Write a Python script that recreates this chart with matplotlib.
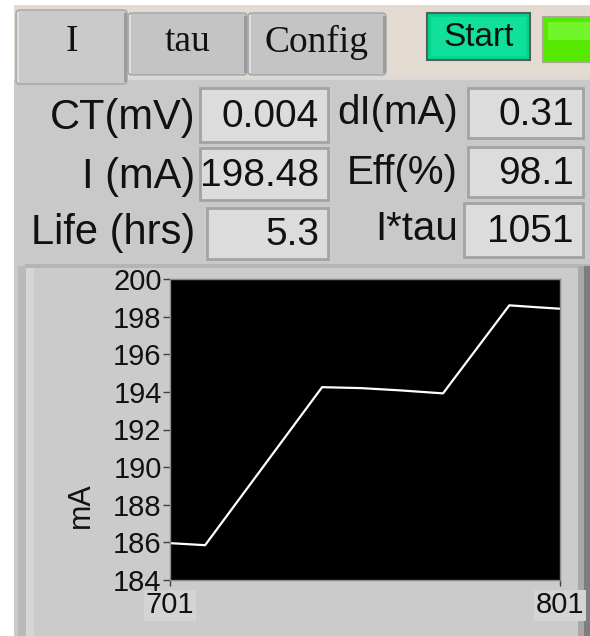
import matplotlib
matplotlib.use('Agg')
import matplotlib.pyplot as plt
from matplotlib.patches import Rectangle, FancyBboxPatch

# data
tab_names = ['I', 'tau', 'Config']
row_labels_left = ['CT(mV)', 'I (mA)', 'Life (hrs)']
row_values_left = ['0.004', '198.48', '5.3']
row_labels_right = ['dI(mA)', 'Eff(%)', 'I*tau']
row_values_right = ['0.31', '98.1', '1051']

sample = [701, 710, 740, 750, 760, 771, 788, 795, 801]
current = [185.96, 185.85, 194.25, 194.2, 194.08, 193.92, 198.6, 198.5, 198.42]
y_ticks = [184, 186, 188, 190, 192, 194, 196, 198, 200]
x_ticks = [701, 801]

W, H = 590, 636
SANS = ['Liberation Sans', 'DejaVu Sans']
SERIF = ['Liberation Serif', 'DejaVu Serif']

fig = plt.figure(figsize=(W / 100, H / 100), dpi=100)
fig.patch.set_facecolor('white')


def box(x0, y0, x1, y1, fc, ec='none', lw=0, z=0, rounded=False):
    # pixel box, origin top-left
    if rounded:
        p = FancyBboxPatch((x0 / W, 1 - y1 / H), (x1 - x0) / W, (y1 - y0) / H,
                           boxstyle='round,pad=0,rounding_size=0.006',
                           transform=fig.transFigure, fc=fc, ec=ec, lw=lw, zorder=z)
    else:
        p = Rectangle((x0 / W, 1 - y1 / H), (x1 - x0) / W, (y1 - y0) / H,
                      transform=fig.transFigure, fc=fc, ec=ec, lw=lw, zorder=z)
    fig.add_artist(p)


def txt(x, y, s, family, size, ha='center', z=5):
    fig.text(x / W, 1 - y / H, s, family=family, fontsize=size, ha=ha, va='center',
             color='#111111', zorder=z)


# background areas
box(14, 5, 590, 80, '#e3dbd2')
box(14, 77, 590, 636, '#c9c9c9')
box(14, 77, 590, 80, '#d9d9d9', z=1)

# tabs
tab_x = [(16, 127), (128, 247), (248, 386)]
for i, (name, (a, b)) in enumerate(zip(tab_names, tab_x)):
    top = 10 if i == 0 else 13
    bot = 84 if i == 0 else 75
    fc = '#cacaca' if i == 0 else '#c4c4c4'
    box(a, top, b, bot, fc, ec='#a5a5a5', lw=1, z=2, rounded=True)
    box(a + 1, top + 2, a + 3, bot - 2, '#dedede', z=3)
    box(b - 3, top + 3, b, bot - 2, '#9c9c9c', z=3)
    txt((a + b) / 2, 42, name, SERIF, 27)

# start button and led
box(427, 13, 530, 60, '#00d690', ec='#4f6158', lw=1.5, z=2)
box(431, 17, 526, 56, '#10e09a', z=3)
txt(478.5, 37, 'Start', SANS, 24)
box(543, 17, 592, 62, '#55ea00', ec='#a9a898', lw=1.5, z=2)
box(548, 22, 592, 40, '#72f52a', z=3)

# indicator rows
boxes_left = [(200, 88, 328, 142), (200, 148, 328, 200), (207, 208, 328, 259)]
boxes_right = [(468, 88, 583, 138), (468, 147, 583, 197), (464, 203, 583, 257)]
label_y_left = [118, 177, 233]
label_y_right = [113, 173, 229]
for i in range(3):
    x0, y0, x1, y1 = boxes_left[i]
    box(x0, y0, x1, y1, '#dcdcdc', ec='#a3a3a3', lw=2, z=2)
    txt(195, label_y_left[i], row_labels_left[i], SANS, 30, ha='right')
    txt(319, (y0 + y1) / 2 + 2, row_values_left[i], SANS, 28, ha='right')
    x0, y0, x1, y1 = boxes_right[i]
    box(x0, y0, x1, y1, '#dcdcdc', ec='#a3a3a3', lw=2, z=2)
    txt(458, label_y_right[i], row_labels_right[i], SANS, 29, ha='right')
    txt(574, (y0 + y1) / 2 + 2, row_values_right[i], SANS, 28, ha='right')

# graph frame
box(25, 266, 590, 636, '#cbcbcb', z=1)
box(18, 266, 26, 636, '#b9b9b9', z=1)
box(26, 268, 34, 636, '#d6d6d6', z=1)
box(25, 264, 590, 268, '#b5b5b5', z=1)
box(578, 266, 584, 636, '#a8a8a8', z=1)
box(584, 266, 590, 636, '#7e7e7e', z=1)

ax = fig.add_axes([170 / W, 1 - 580 / H, (560 - 170) / W, (580 - 279) / H], zorder=4)
ax.set_facecolor('black')
ax.plot(sample, current, color='white', lw=1.6)
ax.set_xlim(701, 801)
ax.set_ylim(184, 200)
ax.set_yticks(y_ticks)
ax.set_xticks(x_ticks)
for s in ax.spines.values():
    s.set_color('#8a8a8a')
    s.set_linewidth(1)
ax.tick_params(axis='y', length=5, width=1, color='#404040', pad=1, labelsize=21)
ax.tick_params(axis='x', length=4, width=1, color='#404040', pad=4, labelsize=21)
for lab in ax.get_xticklabels() + ax.get_yticklabels():
    lab.set_family(SANS)
    lab.set_color('#111111')
for lab in ax.get_xticklabels():
    lab.set_bbox(dict(fc='#d4d4d4', ec='none', pad=1))
ax.set_ylabel('mA', family=SANS, fontsize=22, color='#111111')
ax.yaxis.set_label_coords(-0.19, 0.25)

plt.savefig('out.png', dpi=100)
